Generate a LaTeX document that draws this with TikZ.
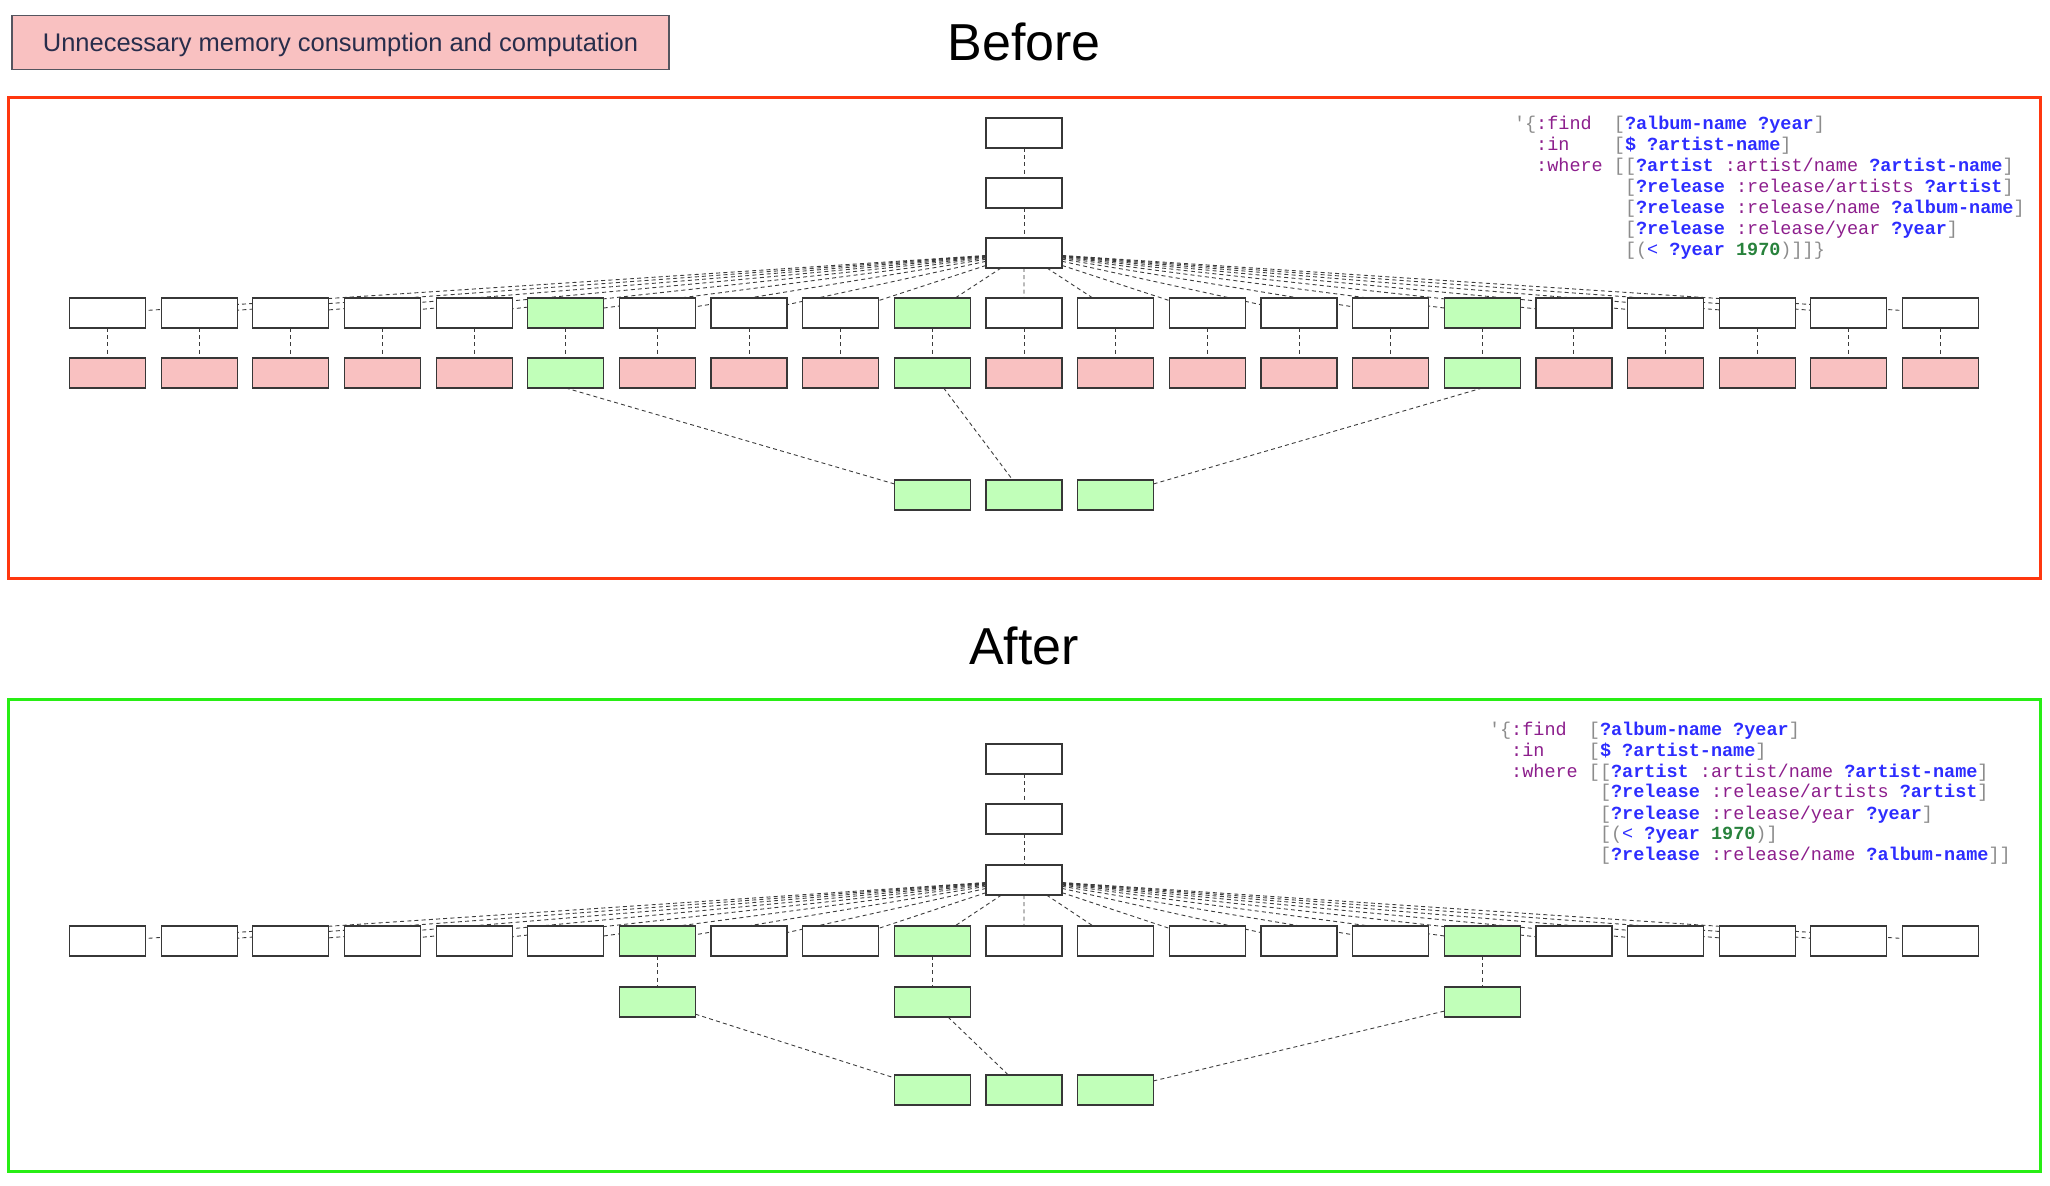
\documentclass[tikz,border=0pt]{standalone}
\usepackage{fontspec}
\setmainfont{Liberation Sans}
\newfontfamily\codefont{Liberation Mono}
\usetikzlibrary{backgrounds}
\definecolor{pinkfill}{RGB}{249,193,193}
\definecolor{greenfill}{RGB}{193,255,185}
\definecolor{framered}{RGB}{255,55,15}
\definecolor{framegreen}{RGB}{40,238,20}
\definecolor{edgegray}{RGB}{60,60,60}
\definecolor{boxline}{RGB}{55,55,55}
\definecolor{legendline}{RGB}{85,85,95}
\definecolor{legendtext}{RGB}{40,45,75}
\definecolor{cgray}{RGB}{140,140,140}
\definecolor{cpurple}{RGB}{140,30,140}
\definecolor{cblue}{RGB}{45,45,255}
\definecolor{cgreen}{RGB}{40,130,60}
\newcommand\ckw[1]{\textcolor{cpurple}{#1}}
\newcommand\cvar[1]{\textcolor{cblue}{\bfseries #1}}
\newcommand\cpn[1]{\textcolor{cgray}{#1}}
\newcommand\cnumb[1]{\textcolor{cgreen}{\bfseries #1}}
\tikzset{
  qbox/.style={draw=boxline, line width=0.6pt, minimum width=38pt, minimum height=15pt, inner sep=0pt, outer sep=0pt, fill=white},
  pinkbox/.style={qbox, fill=pinkfill},
  greenbox/.style={qbox, fill=greenfill},
  link/.style={draw=edgegray, line width=0.45pt, dash pattern=on 2pt off 1.6pt},
  codeline/.style={anchor=base west, inner sep=0pt, outer sep=0pt, font=\codefont\fontsize{9.25pt}{10pt}\selectfont},
  titletext/.style={anchor=base, inner sep=0pt, font=\fontsize{26pt}{30pt}\selectfont},
  frameline/.style={line width=1.5pt}
}
\begin{document}
\begin{tikzpicture}[x=0.5pt, y=-0.5pt]
\useasboundingbox (0,0) rectangle (2050,1186);

% legend
\node[draw=legendline, line width=0.7pt, fill=pinkfill, minimum width=328.5pt, minimum height=26.75pt, inner sep=0pt,
      text height=9.2pt, text depth=0pt,
      font=\fontsize{12.75pt}{15pt}\selectfont, text=legendtext] (legend) at (340.5,42.5)
      {Unnecessary memory consumption and computation};

% titles
\node[titletext] (before) at (1024,61) {Before};
\node[titletext] (after) at (1024,665) {After};

% frames
\draw[frameline, draw=framered] (8,98) rectangle (2040,579);
\draw[frameline, draw=framegreen] (8,700) rectangle (2040,1171);

% ===== BEFORE =====
\node[qbox] (bt) at (1024,133) {};
\node[qbox] (bs) at (1024,193) {};
\node[qbox] (bh) at (1024,253) {};
\foreach \i in {0,...,20}{
  \ifnum\i=5 \def\sta{greenbox}\def\stb{greenbox}\else
  \ifnum\i=9 \def\sta{greenbox}\def\stb{greenbox}\else
  \ifnum\i=15 \def\sta{greenbox}\def\stb{greenbox}\else
  \def\sta{qbox}\def\stb{pinkbox}\fi\fi\fi
  \node[\sta] (b1-\i) at ({107.5+91.65*\i},313) {};
  \node[\stb] (b2-\i) at ({107.5+91.65*\i},373) {};
}
\node[greenbox] (bb1) at (932.35,495) {};
\node[greenbox] (bb2) at (1024,495) {};
\node[greenbox] (bb3) at (1115.65,495) {};

% ===== AFTER =====
\node[qbox] (at) at (1024,759) {};
\node[qbox] (as) at (1024,819) {};
\node[qbox] (ah) at (1024,880) {};
\foreach \i in {0,...,20}{
  \ifnum\i=6 \def\sta{greenbox}\else
  \ifnum\i=9 \def\sta{greenbox}\else
  \ifnum\i=15 \def\sta{greenbox}\else
  \def\sta{qbox}\fi\fi\fi
  \node[\sta] (a1-\i) at ({107.5+91.65*\i},941) {};
}
\foreach \i in {6,9,15}{
  \node[greenbox] (a2-\i) at ({107.5+91.65*\i},1002) {};
}
\node[greenbox] (ab1) at (932.35,1090) {};
\node[greenbox] (ab2) at (1024,1090) {};
\node[greenbox] (ab3) at (1115.65,1090) {};

% ===== connectors =====
\begin{pgfonlayer}{background}
  \draw[link] (bt) -- (bs);
  \draw[link] (bs) -- (bh);
  \foreach \i in {0,...,20}{
    \draw[link] (bh) -- (b1-\i);
    \draw[link] (b1-\i) -- (b2-\i);
  }
  \draw[link] (b2-5.south) -- (bb1);
  \draw[link] (b2-9) -- (bb2);
  \draw[link] (b2-15.south) -- (bb3);

  \draw[link] (at) -- (as);
  \draw[link] (as) -- (ah);
  \foreach \i in {0,...,20}{
    \draw[link] (ah) -- (a1-\i);
  }
  \foreach \i in {6,9,15}{
    \draw[link] (a1-\i) -- (a2-\i);
  }
  \draw[link] (a2-6) -- (ab1);
  \draw[link] (a2-9) -- (ab2);
  \draw[link] (a2-15) -- (ab3);
\end{pgfonlayer}

% ===== code: before =====
\node[codeline] (bc1) at (1514,130) {\cpn{\textquotesingle\{}\ckw{:find}\phantom{xx}\cpn{[}\cvar{?album-name ?year}\cpn{]}};
\node[codeline] (bc2) at (1514,151) {\phantom{xx}\ckw{:in}\phantom{xxxx}\cpn{[}\cvar{\$ ?artist-name}\cpn{]}};
\node[codeline] (bc3) at (1514,172) {\phantom{xx}\ckw{:where}\phantom{x}\cpn{[[}\cvar{?artist}\phantom{x}\ckw{:artist/name}\phantom{x}\cvar{?artist-name}\cpn{]}};
\node[codeline] (bc4) at (1514,193) {\phantom{xxxxxxxxxx}\cpn{[}\cvar{?release}\phantom{x}\ckw{:release/artists}\phantom{x}\cvar{?artist}\cpn{]}};
\node[codeline] (bc5) at (1514,214) {\phantom{xxxxxxxxxx}\cpn{[}\cvar{?release}\phantom{x}\ckw{:release/name}\phantom{x}\cvar{?album-name}\cpn{]}};
\node[codeline] (bc6) at (1514,235) {\phantom{xxxxxxxxxx}\cpn{[}\cvar{?release}\phantom{x}\ckw{:release/year}\phantom{x}\cvar{?year}\cpn{]}};
\node[codeline] (bc7) at (1514,256) {\phantom{xxxxxxxxxx}\cpn{[(}\textcolor{cblue}{<}\phantom{x}\cvar{?year}\phantom{x}\cnumb{1970}\cpn{)]]\}}};

% ===== code: after =====
\node[codeline] (ac1) at (1489,735) {\cpn{\textquotesingle\{}\ckw{:find}\phantom{xx}\cpn{[}\cvar{?album-name ?year}\cpn{]}};
\node[codeline] (ac2) at (1489,756) {\phantom{xx}\ckw{:in}\phantom{xxxx}\cpn{[}\cvar{\$ ?artist-name}\cpn{]}};
\node[codeline] (ac3) at (1489,777) {\phantom{xx}\ckw{:where}\phantom{x}\cpn{[[}\cvar{?artist}\phantom{x}\ckw{:artist/name}\phantom{x}\cvar{?artist-name}\cpn{]}};
\node[codeline] (ac4) at (1489,798) {\phantom{xxxxxxxxxx}\cpn{[}\cvar{?release}\phantom{x}\ckw{:release/artists}\phantom{x}\cvar{?artist}\cpn{]}};
\node[codeline] (ac5) at (1489,819) {\phantom{xxxxxxxxxx}\cpn{[}\cvar{?release}\phantom{x}\ckw{:release/year}\phantom{x}\cvar{?year}\cpn{]}};
\node[codeline] (ac6) at (1489,839.5) {\phantom{xxxxxxxxxx}\cpn{[(}\textcolor{cblue}{<}\phantom{x}\cvar{?year}\phantom{x}\cnumb{1970}\cpn{)]}};
\node[codeline] (ac7) at (1489,860) {\phantom{xxxxxxxxxx}\cpn{[}\cvar{?release}\phantom{x}\ckw{:release/name}\phantom{x}\cvar{?album-name}\cpn{]]}};
\end{tikzpicture}
\end{document}
